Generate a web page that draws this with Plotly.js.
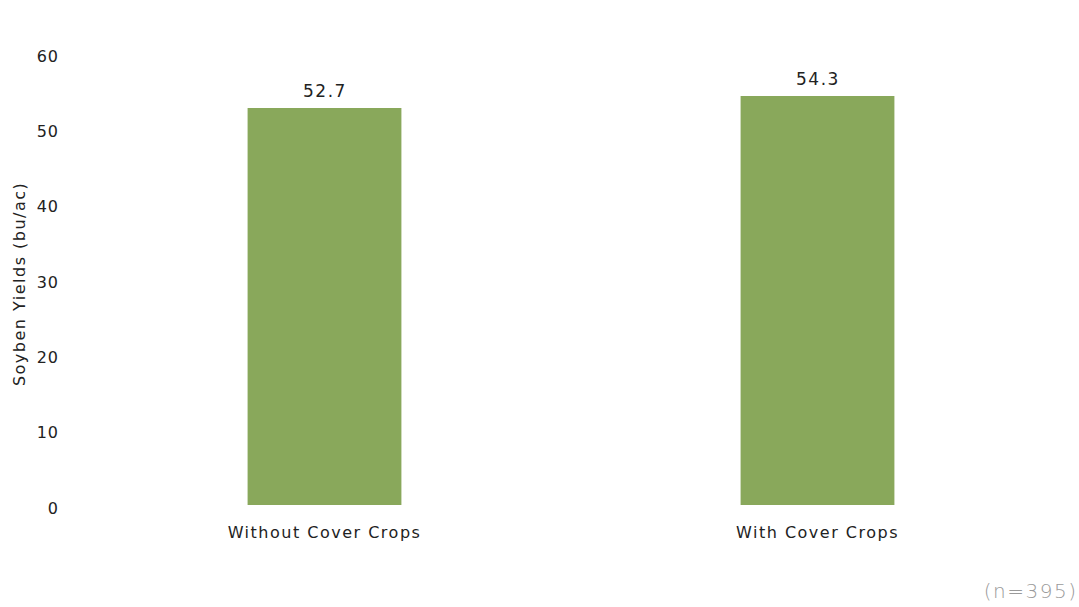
<!DOCTYPE html>
<html>
<head>
<meta charset="utf-8">
<script src="https://cdn.plot.ly/plotly-3.0.1.min.js"></script>
<style>
html,body{margin:0;padding:0;background:#fff;}
#chart{width:1079px;height:607px;}
#chart text{letter-spacing:1.5px;}
#chart .ytick text{letter-spacing:1px;}
</style>
</head>
<body>
<div id="chart"></div>
<script>
const categories = ["Without Cover Crops", "With Cover Crops"];
const yields = [52.7, 54.3];
const valueLabels = ["52.7", "54.3"];
const yTickValues = [0, 10, 20, 30, 40, 50, 60];
const yAxisLabel = "Soyben Yields (bu/ac)";
const sampleNote = "(n=395)";

const fontFam = "'DejaVu Sans', sans-serif";
const textColor = "#222222";

const trace = {
  type: "bar",
  x: categories,
  y: yields,
  marker: {color: "#89a85b"},
  hoverinfo: "none"
};

const valueAnnotations = categories.map((c, i) => ({
  text: valueLabels[i],
  x: c, y: yields[i],
  xref: "x", yref: "y",
  xanchor: "center", yanchor: "bottom",
  yshift: 5,
  showarrow: false,
  font: {family: fontFam, size: 17, color: textColor}
}));

const layout = {
  width: 1079,
  height: 607,
  margin: {l: 78, r: 15, t: 53, b: 102},
  paper_bgcolor: "#ffffff",
  plot_bgcolor: "#ffffff",
  showlegend: false,
  bargap: 0.688,
  font: {family: fontFam, size: 16, color: textColor},
  xaxis: {
    type: "category",
    range: [-0.5, 1.5],
    showgrid: false,
    zeroline: false,
    showline: false,
    ticks: "",
    ticklabelstandoff: 16,
    tickfont: {family: fontFam, size: 16, color: textColor},
    automargin: false
  },
  yaxis: {
    range: [0, 60],
    tickvals: yTickValues,
    ticktext: yTickValues.map(String),
    showgrid: false,
    zeroline: false,
    showline: false,
    ticks: "",
    ticklabelstandoff: 18,
    ticklabelshift: 3,
    tickfont: {family: fontFam, size: 16, color: textColor},
    automargin: false
  },
  annotations: valueAnnotations.concat([
    {
      text: yAxisLabel,
      xref: "paper", yref: "paper",
      x: -0.059, y: 0.49,
      xanchor: "center", yanchor: "middle",
      textangle: -90,
      showarrow: false,
      font: {family: fontFam, size: 16, color: textColor}
    },
    {
      text: sampleNote,
      xref: "paper", yref: "paper",
      x: 1.01, y: -0.19,
      xanchor: "right", yanchor: "middle",
      showarrow: false,
      font: {family: fontFam, size: 20, weight: 200, color: "#9a9a9a"}
    }
  ])
};

Plotly.newPlot("chart", [trace], layout, {displayModeBar: false, staticPlot: true});
</script>
</body>
</html>
